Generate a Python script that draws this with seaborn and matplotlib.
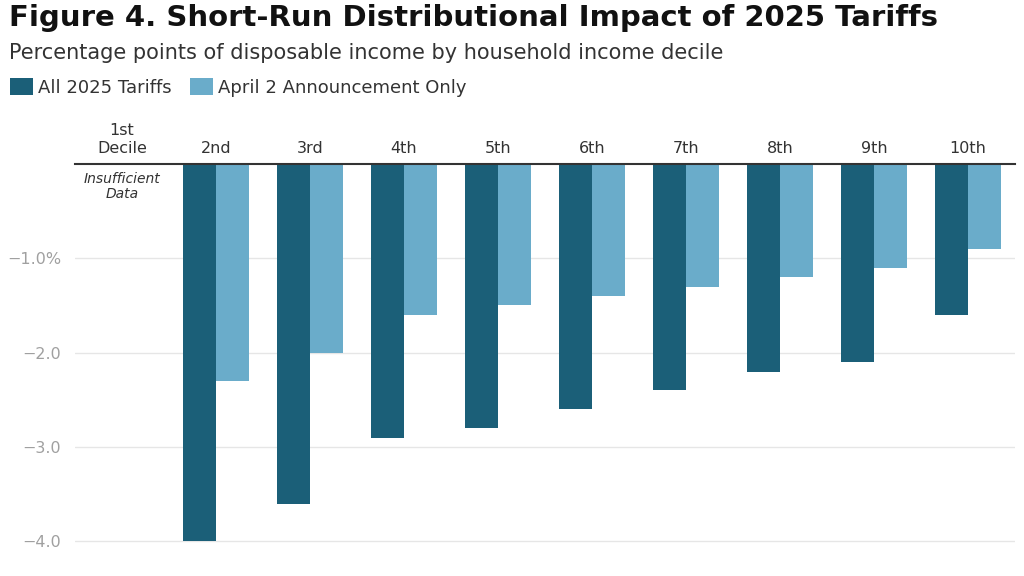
import pandas as pd
import matplotlib.pyplot as plt
import seaborn as sns

# data
deciles = ['1st\nDecile', '2nd', '3rd', '4th', '5th', '6th', '7th', '8th', '9th', '10th']
all_tariffs = [None, -4.0, -3.6, -2.9, -2.8, -2.6, -2.4, -2.2, -2.1, -1.6]
april2_only = [None, -2.3, -2.0, -1.6, -1.5, -1.4, -1.3, -1.2, -1.1, -0.9]
series_names = ['All 2025 Tariffs', 'April 2 Announcement Only']
y_ticks = [-1.0, -2.0, -3.0, -4.0]
y_tick_labels = ['\u22121.0%', '\u22122.0', '\u22123.0', '\u22124.0']

df = pd.DataFrame({
    'decile': deciles * 2,
    'series': [series_names[0]] * len(deciles) + [series_names[1]] * len(deciles),
    'value': all_tariffs + april2_only,
})
df['value'] = df['value'].astype(float)

sns.set_theme(style='white')
plt.rcParams['font.family'] = ['DejaVu Sans']

fig = plt.figure(figsize=(10.24, 5.76), dpi=100)
ax = fig.add_axes([0.0732, 0.052, 0.918, 0.6633])

palette = {series_names[0]: '#1b5f78', series_names[1]: '#6aacca'}
sns.barplot(data=df, x='decile', y='value', hue='series', order=deciles,
            hue_order=series_names, palette=palette, width=0.7,
            saturation=1, linewidth=0, ax=ax)

ax.set_xlim(-0.5, len(deciles) - 0.5)
ax.set_ylim(-4.05, 0)
ax.set_yticks(y_ticks)
ax.set_yticklabels(y_tick_labels, color='#a0a0a0', fontsize=11.5)
ax.yaxis.grid(True, color='#e6e6e6', linewidth=1)
ax.set_axisbelow(True)
ax.xaxis.tick_top()
ax.tick_params(axis='x', length=0, pad=6, labelsize=11.5, labelcolor='#333333')
ax.tick_params(axis='y', length=0, pad=10)
ax.set_xlabel('')
ax.set_ylabel('')
for s in ['left', 'right', 'bottom']:
    ax.spines[s].set_visible(False)
ax.spines['top'].set_color('#333333')
ax.spines['top'].set_linewidth(1.5)

ax.text(0, -0.24, 'Insufficient\nData', ha='center', va='center',
        fontsize=10, style='italic', color='#333333', linespacing=1.15)

sns.move_legend(ax, 'upper left', bbox_to_anchor=(0.0098, 0.864),
                bbox_transform=fig.transFigure, ncol=2, title=None,
                frameon=False, fontsize=13, handlelength=1.27,
                handleheight=1.05, handletextpad=0.3, columnspacing=1.0,
                borderaxespad=0, borderpad=0, labelcolor='#333333')

fig.text(0.009, 0.993, 'Figure 4. Short-Run Distributional Impact of 2025 Tariffs',
         ha='left', va='top', fontsize=21, fontweight='bold', color='#111111')
fig.text(0.009, 0.926, 'Percentage points of disposable income by household income decile',
         ha='left', va='top', fontsize=15, color='#333333')

fig.savefig('out.png', dpi=100)
